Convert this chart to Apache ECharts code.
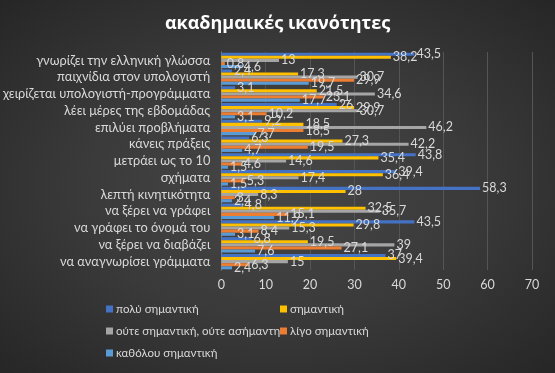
<!DOCTYPE html>
<html>
<head>
<meta charset="utf-8">
<script src="https://cdn.jsdelivr.net/npm/echarts@6/dist/echarts.min.js"></script>
<style>
html,body{margin:0;padding:0;}
#c{width:555px;height:373px;background:radial-gradient(ellipse at 50% 50%, #474747 0%, #3a3a3a 50%, #262626 100%);}
</style>
</head>
<body>
<div id="c"></div>
<script>
const categories = [
  "γνωρίζει την ελληνική γλώσσα",
  "παιχνίδια στον υπολογιστή",
  "χειρίζεται υπολογιστή-προγράμματα",
  "λέει μέρες της εβδομάδας",
  "επιλύει προβλήματα",
  "κάνεις πράξεις",
  "μετράει ως το 10",
  "σχήματα",
  "λεπτή κινητικότητα",
  "να ξέρει να γράφει",
  "να γράφει το όνομά του",
  "να ξέρει να διαβάζει",
  "να αναγνωρίσει γράμματα"
];
const seriesNames = ["πολύ σημαντική","σημαντική","ούτε σημαντική, ούτε ασήμαντη","λίγο σημαντική","καθόλου σημαντική"];
const poly      = [43.5, 2.4, 3.1, 26, 9.2, 6.3, 43.8, 39.4, 58.3, 4.8, 43.5, 6.8, 37];
const simantiki = [38.2, 17.3, 21.5, 29.9, 18.5, 27.3, 35.4, 36.4, 28, 32.5, 29.8, 19.5, 39.4];
const oute      = [13, 30.7, 34.6, 30.7, 46.2, 42.2, 14.6, 17.4, 8.3, 35.7, 15.3, 39, 15];
const ligo      = [0.8, 29.9, 23.1, 10.2, 18.5, 19.5, 4.6, 5.3, 3, 15.1, 8.4, 27.1, 6.3];
const katholou  = [4.6, 19.7, 17.7, 3.1, 7.7, 4.7, 1.5, 1.5, 2.4, 11.9, 3.1, 7.6, 2.4];
const xTicks = [0, 10, 20, 30, 40, 50, 60, 70];

const colors = ["#4472C4", "#FFC000", "#A5A5A5", "#ED7D31", "#5B9BD5"];
const values = [poly, simantiki, oute, ligo, katholou];
const font = "Lato, 'Open Sans', sans-serif";
const txt = "#d9d9d9";

const chart = echarts.init(document.getElementById('c'), null, {renderer: 'canvas'});
chart.setOption({
  backgroundColor: 'transparent',
  animation: false,
  title: {
    text: "ακαδημαικές ικανότητες",
    left: 'center', top: 10,
    textStyle: {color: '#ffffff', fontSize: 18, fontWeight: 'bold', fontFamily: "'Open Sans', sans-serif"}
  },
  legend: [
    {data: [seriesNames[0], seriesNames[2], seriesNames[4]], orient: 'vertical', left: 106, top: 302, padding: 0, itemGap: 8,
     itemWidth: 7, itemHeight: 7, icon: 'rect', textStyle: {color: txt, fontSize: 11.5, lineHeight: 14, fontFamily: font, padding:[0,0,0,-2]}},
    {data: [seriesNames[1], seriesNames[3]], orient: 'vertical', left: 280, top: 302, padding: 0, itemGap: 8,
     itemWidth: 7, itemHeight: 7, icon: 'rect', textStyle: {color: txt, fontSize: 11.5, lineHeight: 14, fontFamily: font, padding:[0,0,0,-2]}}
  ],
  grid: {left: 201, right: 23, top: 52, bottom: 103, containLabel: false},
  xAxis: {
    type: 'value', min: 0, max: 70, interval: 10,
    axisLabel: {color: txt, fontSize: 12.5, fontFamily: font, margin: 8,
      formatter: v => xTicks.includes(v) ? String(v) : ''},
    splitLine: {show: true, lineStyle: {color: '#555555', width: 1}},
    axisLine: {show: false}, axisTick: {show: false}
  },
  yAxis: {
    type: 'category', data: categories, inverse: true,
    axisLabel: {color: txt, fontSize: 12.8, fontFamily: font, margin: 11, interval: 0},
    axisLine: {show: true, lineStyle: {color: '#7f7f7f'}},
    axisTick: {show: false}
  },
  series: seriesNames.map((n, i) => ({
    name: n, type: 'bar', data: values[i],
    barGap: '0%', barCategoryGap: '8%',
    itemStyle: {color: colors[i]},
    label: {show: true, position: 'right', distance: 2, color: txt, fontSize: 12.5, fontFamily: font,
      formatter: p => String(p.value).replace('.', ',')}
  }))
});
</script>
</body>
</html>
